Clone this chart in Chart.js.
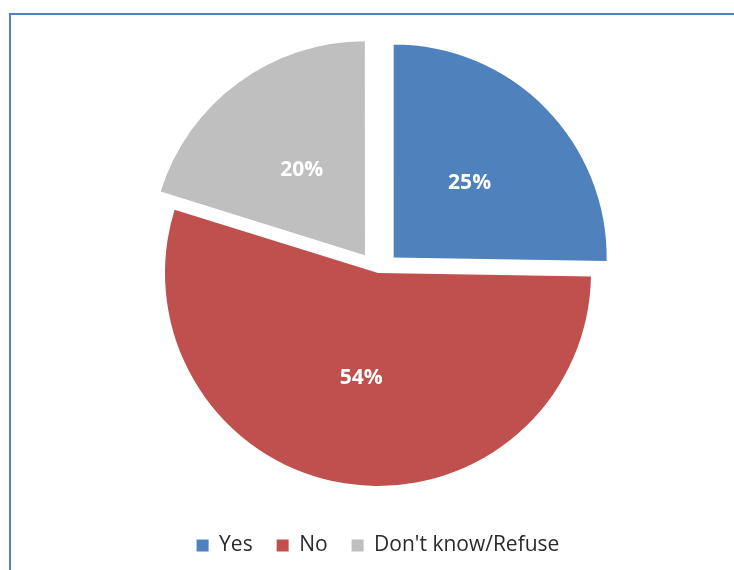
<!DOCTYPE html>
<html>
<head>
<meta charset="utf-8">
<script src="https://cdn.jsdelivr.net/npm/chart.js@4/dist/chart.umd.min.js"></script>
<style>
  html, body { margin: 0; padding: 0; background: #ffffff; }
  #wrap { position: relative; width: 734px; height: 570px; overflow: hidden; }
  #frame {
    position: absolute; left: 9px; top: 13px; width: 760px; height: 600px;
    border-top: 2px solid #4F81BD; border-left: 2px solid #4F81BD;
    box-sizing: border-box;
  }
  canvas { position: absolute; left: 0; top: 0; }
</style>
</head>
<body>
<div id="wrap">
  <div id="frame"></div>
  <canvas id="pie" width="734" height="570"></canvas>
</div>
<script>
// Survey answers, in percent
const categories = ['Yes', 'No', "Don't know/Refuse"];
const shares = [25, 54, 20];
const sliceColors = ['#4F81BD', '#C0504D', '#BFBFBF'];
// Pull-out distance per slice (Chart.js v4 moves an arc by offset / 4)
const explode = [88, 0, 88];

// White percentage labels at the middle of each slice
const sliceLabels = {
  id: 'sliceLabels',
  afterDatasetsDraw(chart) {
    const ctx = chart.ctx;
    const meta = chart.getDatasetMeta(0);
    ctx.save();
    ctx.fillStyle = '#ffffff';
    ctx.font = 'bold 21px "Open Sans", sans-serif';
    ctx.textAlign = 'center';
    ctx.textBaseline = 'middle';
    meta.data.forEach((arc, i) => {
      const p = arc.getProps(['x', 'y', 'startAngle', 'endAngle', 'outerRadius'], true);
      const mid = (p.startAngle + p.endAngle) / 2;
      const shift = (arc.options.offset || 0) / 4;
      const d = shift + p.outerRadius * 0.5;
      ctx.fillText(shares[i] + '%', p.x + Math.cos(mid) * d, p.y + Math.sin(mid) * d);
    });
    ctx.restore();
  }
};

new Chart(document.getElementById('pie'), {
  type: 'pie',
  data: {
    labels: categories,
    datasets: [{
      data: shares,
      backgroundColor: sliceColors,
      borderWidth: 0,
      offset: explode,
      hoverOffset: 0,
      radius: 213,
      clip: false
    }]
  },
  options: {
    responsive: false,
    animation: false,
    events: [],
    layout: { padding: { left: 22, right: 0, top: 35, bottom: 4 } },
    plugins: {
      tooltip: { enabled: false },
      legend: {
        position: 'bottom',
        labels: {
          boxWidth: 12,
          boxHeight: 12,
          padding: 24,
          color: '#2b2b2b',
          font: { family: '"Open Sans", sans-serif', size: 21 }
        }
      }
    }
  },
  plugins: [sliceLabels]
});
</script>
</body>
</html>
